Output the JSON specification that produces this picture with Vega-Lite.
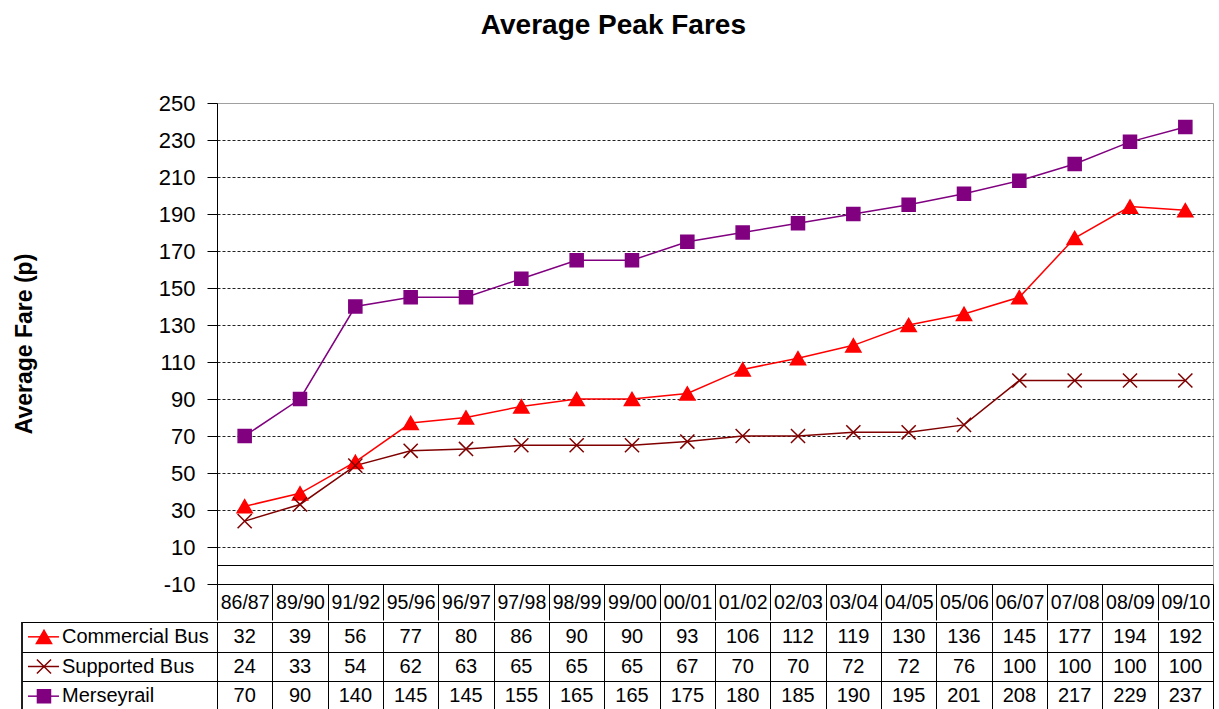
{
  "$schema": "https://vega.github.io/schema/vega-lite/v6.json",
  "padding": {"left": 12, "top": 11, "right": 3, "bottom": 0},
  "background": "white",
  "title": {"text": "Average Peak Fares", "fontSize": 28, "fontWeight": "bold", "font": "Liberation Sans", "color": "black", "anchor": "middle", "offset": 52},
  "config": {"font": "Liberation Sans", "view": {"stroke": "#a0a0a0"}},
  "datasets": {
    "fares": [
      {"year": "86/87", "series": "Commercial Bus", "value": 32},
      {"year": "89/90", "series": "Commercial Bus", "value": 39},
      {"year": "91/92", "series": "Commercial Bus", "value": 56},
      {"year": "95/96", "series": "Commercial Bus", "value": 77},
      {"year": "96/97", "series": "Commercial Bus", "value": 80},
      {"year": "97/98", "series": "Commercial Bus", "value": 86},
      {"year": "98/99", "series": "Commercial Bus", "value": 90},
      {"year": "99/00", "series": "Commercial Bus", "value": 90},
      {"year": "00/01", "series": "Commercial Bus", "value": 93},
      {"year": "01/02", "series": "Commercial Bus", "value": 106},
      {"year": "02/03", "series": "Commercial Bus", "value": 112},
      {"year": "03/04", "series": "Commercial Bus", "value": 119},
      {"year": "04/05", "series": "Commercial Bus", "value": 130},
      {"year": "05/06", "series": "Commercial Bus", "value": 136},
      {"year": "06/07", "series": "Commercial Bus", "value": 145},
      {"year": "07/08", "series": "Commercial Bus", "value": 177},
      {"year": "08/09", "series": "Commercial Bus", "value": 194},
      {"year": "09/10", "series": "Commercial Bus", "value": 192},
      {"year": "86/87", "series": "Supported Bus", "value": 24},
      {"year": "89/90", "series": "Supported Bus", "value": 33},
      {"year": "91/92", "series": "Supported Bus", "value": 54},
      {"year": "95/96", "series": "Supported Bus", "value": 62},
      {"year": "96/97", "series": "Supported Bus", "value": 63},
      {"year": "97/98", "series": "Supported Bus", "value": 65},
      {"year": "98/99", "series": "Supported Bus", "value": 65},
      {"year": "99/00", "series": "Supported Bus", "value": 65},
      {"year": "00/01", "series": "Supported Bus", "value": 67},
      {"year": "01/02", "series": "Supported Bus", "value": 70},
      {"year": "02/03", "series": "Supported Bus", "value": 70},
      {"year": "03/04", "series": "Supported Bus", "value": 72},
      {"year": "04/05", "series": "Supported Bus", "value": 72},
      {"year": "05/06", "series": "Supported Bus", "value": 76},
      {"year": "06/07", "series": "Supported Bus", "value": 100},
      {"year": "07/08", "series": "Supported Bus", "value": 100},
      {"year": "08/09", "series": "Supported Bus", "value": 100},
      {"year": "09/10", "series": "Supported Bus", "value": 100},
      {"year": "86/87", "series": "Merseyrail", "value": 70},
      {"year": "89/90", "series": "Merseyrail", "value": 90},
      {"year": "91/92", "series": "Merseyrail", "value": 140},
      {"year": "95/96", "series": "Merseyrail", "value": 145},
      {"year": "96/97", "series": "Merseyrail", "value": 145},
      {"year": "97/98", "series": "Merseyrail", "value": 155},
      {"year": "98/99", "series": "Merseyrail", "value": 165},
      {"year": "99/00", "series": "Merseyrail", "value": 165},
      {"year": "00/01", "series": "Merseyrail", "value": 175},
      {"year": "01/02", "series": "Merseyrail", "value": 180},
      {"year": "02/03", "series": "Merseyrail", "value": 185},
      {"year": "03/04", "series": "Merseyrail", "value": 190},
      {"year": "04/05", "series": "Merseyrail", "value": 195},
      {"year": "05/06", "series": "Merseyrail", "value": 201},
      {"year": "06/07", "series": "Merseyrail", "value": 208},
      {"year": "07/08", "series": "Merseyrail", "value": 217},
      {"year": "08/09", "series": "Merseyrail", "value": 229},
      {"year": "09/10", "series": "Merseyrail", "value": 237}
    ],
    "series": [
      {"series": "Commercial Bus"},
      {"series": "Supported Bus"},
      {"series": "Merseyrail"}
    ]
  },
  "spacing": 0,
  "resolve": {"scale": {"x": "independent"}},
  "vconcat": [
    {
      "width": 996,
      "height": 481,
      "data": {"name": "fares"},
      "layer": [
        {
          "mark": {"type": "rule", "color": "black", "strokeWidth": 1},
          "encoding": {"y": {"datum": 0, "type": "quantitative", "scale": {"domain": [-10, 250], "nice": false, "zero": false}}}
        },
        {
          "mark": {"type": "line", "strokeWidth": 1.5},
          "encoding": {
            "x": {"field": "year", "type": "nominal", "bandPosition": 0.5,
              "scale": {"type": "band", "domain": ["86/87","89/90","91/92","95/96","96/97","97/98","98/99","99/00","00/01","01/02","02/03","03/04","04/05","05/06","06/07","07/08","08/09","09/10"], "paddingInner": 0, "paddingOuter": 0},
              "axis": {"orient": "bottom", "title": null, "tickBand": "extent", "tickSize": 36, "tickColor": "black", "tickWidth": 1, "domainColor": "black", "domainWidth": 1, "labelFontSize": 19.5, "labelColor": "black", "labelPadding": -27, "labelBaseline": "top", "labelAngle": 0, "labelOverlap": false, "grid": false}},
            "y": {"field": "value", "type": "quantitative",
              "scale": {"domain": [-10, 250], "nice": false, "zero": false},
              "axis": {"title": "Average Fare (p)", "titleFontSize": 23, "titleFontWeight": "bold", "titleColor": "black", "titlePadding": 122,
                "values": [-10, 10, 30, 50, 70, 90, 110, 130, 150, 170, 190, 210, 230, 250],
                "tickCount": 30,
                "labelExpr": "'' + datum.value",
                "labelOverlap": false,
                "labelFontSize": 22, "labelColor": "black", "labelPadding": 12, "tickSize": 10, "tickColor": "black", "domainColor": "black",
                "grid": true,
                "gridColor": {"condition": {"test": "datum.value == 250", "value": "#a0a0a0"}, "value": "#222222"},
                "gridDash": {"condition": {"test": "datum.value == 250", "value": []}, "value": [3, 2]},
                "gridOpacity": {"condition": {"test": "datum.value == -10", "value": 0}, "value": 1}}},
            "color": {"field": "series", "type": "nominal", "legend": null,
              "scale": {"domain": ["Commercial Bus", "Supported Bus", "Merseyrail"], "range": ["#ff0000", "#800000", "#800080"]}}
          }
        },
        {
          "mark": {"type": "point", "filled": true, "opacity": 1, "strokeWidth": 1.5},
          "encoding": {
            "x": {"field": "year", "type": "nominal", "bandPosition": 0.5},
            "y": {"field": "value", "type": "quantitative"},
            "color": {"field": "series", "type": "nominal", "legend": null},
            "stroke": {"field": "series", "type": "nominal", "legend": null,
              "scale": {"domain": ["Commercial Bus", "Supported Bus", "Merseyrail"], "range": ["#ff0000", "#800000", "#800080"]}},
            "shape": {"field": "series", "type": "nominal", "legend": null,
              "scale": {"domain": ["Commercial Bus", "Supported Bus", "Merseyrail"], "range": ["triangle-up", "M-1,-1L1,1M-1,1L1,-1", "square"]}},
            "size": {"field": "series", "type": "nominal", "legend": null,
              "scale": {"domain": ["Commercial Bus", "Supported Bus", "Merseyrail"], "range": [230, 170, 170]}}
          }
        }
      ]
    },
    {
      "width": 996,
      "height": 89,
      "view": {"stroke": "black"},
      "resolve": {"scale": {"x": "independent"}},
      "layer": [
        {
          "data": {"name": "fares"},
          "mark": {"type": "text", "fontSize": 20, "color": "black"},
          "encoding": {
            "x": {"field": "year", "type": "nominal", "bandPosition": 0.5,
              "scale": {"type": "band", "domain": ["86/87","89/90","91/92","95/96","96/97","97/98","98/99","99/00","00/01","01/02","02/03","03/04","04/05","05/06","06/07","07/08","08/09","09/10"], "paddingInner": 0, "paddingOuter": 0},
              "axis": {"orient": "top", "title": null, "labels": false, "ticks": false, "domain": false, "grid": true, "gridColor": "black", "gridWidth": 1, "gridOpacity": 1, "tickBand": "extent"}},
            "y": {"field": "series", "type": "nominal", "bandPosition": 0.5,
              "scale": {"type": "band", "domain": ["Commercial Bus", "Supported Bus", "Merseyrail"], "paddingInner": 0, "paddingOuter": 0},
              "axis": {"title": null, "labels": false, "ticks": true, "tickSize": 195, "tickBand": "extent", "tickColor": "black", "tickWidth": 1, "domainColor": "black", "grid": true, "gridColor": "black", "gridOpacity": 1}},
            "text": {"field": "value", "type": "quantitative"}
          }
        },
        {
          "data": {"name": "series"},
          "mark": {"type": "rule", "strokeWidth": 1.5},
          "encoding": {
            "x": {"datum": -3.416, "type": "quantitative", "scale": {"domain": [0, 18], "nice": false, "zero": false}, "axis": null},
            "x2": {"datum": -2.856},
            "y": {"field": "series", "type": "nominal", "bandPosition": 0.5},
            "color": {"field": "series", "type": "nominal", "legend": null}
          }
        },
        {
          "data": {"name": "series"},
          "mark": {"type": "point", "filled": true, "opacity": 1, "strokeWidth": 1.5},
          "encoding": {
            "x": {"datum": -3.127, "type": "quantitative", "scale": {"domain": [0, 18], "nice": false, "zero": false}, "axis": null},
            "y": {"field": "series", "type": "nominal", "bandPosition": 0.5},
            "color": {"field": "series", "type": "nominal", "legend": null},
            "stroke": {"field": "series", "type": "nominal", "legend": null},
            "shape": {"field": "series", "type": "nominal", "legend": null},
            "size": {"field": "series", "type": "nominal", "legend": null}
          }
        },
        {
          "data": {"name": "series"},
          "mark": {"type": "text", "fontSize": 20, "color": "black", "align": "left"},
          "encoding": {
            "x": {"datum": -2.801, "type": "quantitative", "scale": {"domain": [0, 18], "nice": false, "zero": false}, "axis": null},
            "y": {"field": "series", "type": "nominal", "bandPosition": 0.5},
            "text": {"field": "series", "type": "nominal"}
          }
        },
        {
          "data": {"name": "series"},
          "mark": {"type": "rule", "color": "black", "strokeWidth": 1},
          "encoding": {
            "x": {"datum": -3.524, "type": "quantitative", "scale": {"domain": [0, 18], "nice": false, "zero": false}, "axis": null}
          }
        }
      ]
    }
  ]
}
